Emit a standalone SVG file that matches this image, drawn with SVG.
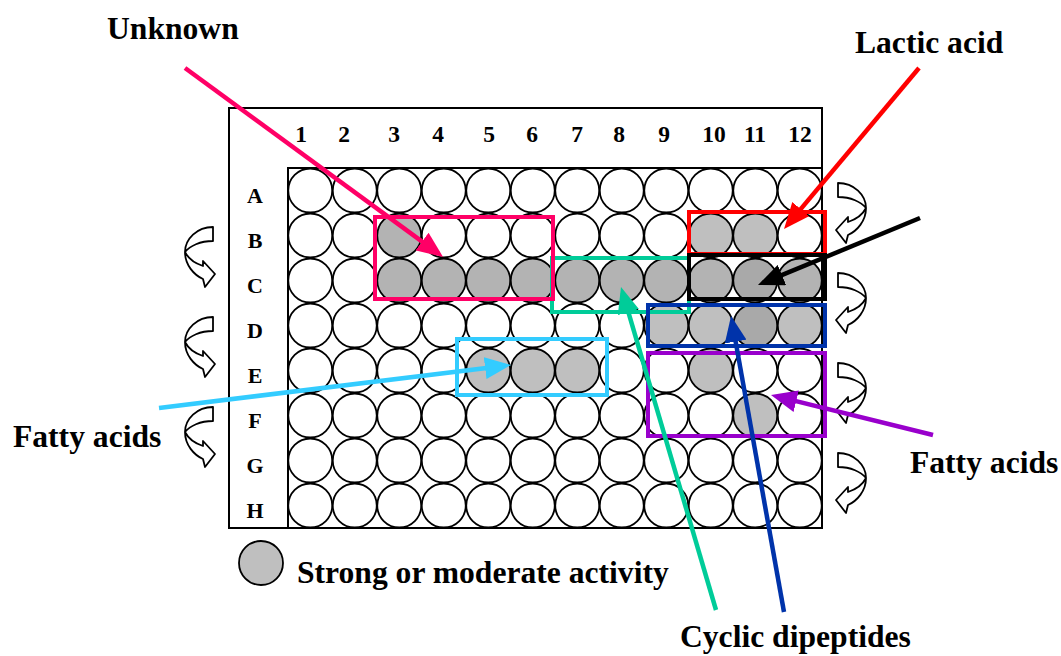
<svg xmlns="http://www.w3.org/2000/svg" width="1061" height="656" viewBox="0 0 1061 656">
  <style>
    .well { fill: #ffffff; stroke: #000; stroke-width: 1.8; }
    .hit { fill: #bfbfbf; }
    .hit2 { fill: #b3b3b3; }
    .hit3 { fill: #a9a9a9; }
    .lbl { font-family: "Liberation Serif", "Times New Roman", serif; font-weight: bold; fill: #000; }
    .row { font-size: 22px; text-anchor: middle; }
    .col { font-size: 23.5px; text-anchor: middle; }
    .big { font-size: 31.6px; }
    .box { fill: none; stroke-width: 4; }
    .arr { fill: none; stroke-width: 4.5; }
    .flip { fill: #fff; stroke: #000; stroke-width: 1.8; stroke-linejoin: round; }
  </style>
  <defs>
    <!-- curved "flip" arrow, curve on the left, head pointing right -->
    <path id="turn" d="M28,0 C12,0 0,12 0,25 C0,38 9,48 18,52 L20,60 L30,47 L18,34 L18,39 C9,36 3,31 0,25 C5,19 15,14 28,14 Z"/>
    <marker id="hPink" markerUnits="userSpaceOnUse" markerWidth="26" markerHeight="22" refX="20" refY="11" orient="auto"><path d="M0,0 L26,11 L0,22 Z" fill="#ff0066"/></marker>
    <marker id="hRed" markerUnits="userSpaceOnUse" markerWidth="26" markerHeight="22" refX="20" refY="11" orient="auto"><path d="M0,0 L26,11 L0,22 Z" fill="#ff0000"/></marker>
    <marker id="hBlack" markerUnits="userSpaceOnUse" markerWidth="26" markerHeight="22" refX="20" refY="11" orient="auto"><path d="M0,0 L26,11 L0,22 Z" fill="#000000"/></marker>
    <marker id="hGreen" markerUnits="userSpaceOnUse" markerWidth="26" markerHeight="22" refX="20" refY="11" orient="auto"><path d="M0,0 L26,11 L0,22 Z" fill="#00cc99"/></marker>
    <marker id="hBlue" markerUnits="userSpaceOnUse" markerWidth="26" markerHeight="22" refX="20" refY="11" orient="auto"><path d="M0,0 L26,11 L0,22 Z" fill="#0033aa"/></marker>
    <marker id="hCyan" markerUnits="userSpaceOnUse" markerWidth="26" markerHeight="22" refX="20" refY="11" orient="auto"><path d="M0,0 L26,11 L0,22 Z" fill="#33ccff"/></marker>
    <marker id="hPurple" markerUnits="userSpaceOnUse" markerWidth="26" markerHeight="22" refX="20" refY="11" orient="auto"><path d="M0,0 L26,11 L0,22 Z" fill="#9900cc"/></marker>
  </defs>

  <rect width="1061" height="656" fill="#fff"/>

  <!-- 96-well plate -->
  <g id="plate">
    <rect x="229" y="108" width="593" height="420" fill="#fff" stroke="#000" stroke-width="2"/>
    <path d="M288,528 V168 H822" fill="none" stroke="#000" stroke-width="2"/>
    <g id="col-labels" class="lbl col">
      <text x="301" y="142">1</text><text x="344" y="142">2</text><text x="394" y="142">3</text>
      <text x="438" y="142">4</text><text x="489" y="142">5</text><text x="532" y="142">6</text>
      <text x="577" y="142">7</text><text x="619" y="142">8</text><text x="664" y="142">9</text>
      <text x="714" y="142">10</text><text x="755" y="142">11</text><text x="800" y="142">12</text>
    </g>
    <g id="row-labels" class="lbl row">
      <text x="255" y="203">A</text><text x="255" y="248">B</text><text x="255" y="293">C</text>
      <text x="255" y="338">D</text><text x="255" y="383">E</text><text x="255" y="428">F</text>
      <text x="255" y="473">G</text><text x="255" y="518">H</text>
    </g>
    <g id="wells">
      <!-- row A -->
      <g transform="translate(0,190.5)">
        <circle class="well" cx="310.25" r="22"/><circle class="well" cx="354.75" r="22"/><circle class="well" cx="399.25" r="22"/>
        <circle class="well" cx="443.75" r="22"/><circle class="well" cx="488.25" r="22"/><circle class="well" cx="532.75" r="22"/>
        <circle class="well" cx="577.25" r="22"/><circle class="well" cx="621.75" r="22"/><circle class="well" cx="666.25" r="22"/>
        <circle class="well" cx="710.75" r="22"/><circle class="well" cx="755.25" r="22"/><circle class="well" cx="799.75" r="22"/>
      </g>
      <!-- row B -->
      <g transform="translate(0,235.5)">
        <circle class="well" cx="310.25" r="22"/><circle class="well" cx="354.75" r="22"/><circle class="well hit2" cx="399.25" r="22"/>
        <circle class="well" cx="443.75" r="22"/><circle class="well" cx="488.25" r="22"/><circle class="well" cx="532.75" r="22"/>
        <circle class="well" cx="577.25" r="22"/><circle class="well" cx="621.75" r="22"/><circle class="well" cx="666.25" r="22"/>
        <circle class="well hit" cx="710.75" r="22"/><circle class="well hit" cx="755.25" r="22"/><circle class="well" cx="799.75" r="22"/>
      </g>
      <!-- row C -->
      <g transform="translate(0,280.5)">
        <circle class="well" cx="310.25" r="22"/><circle class="well" cx="354.75" r="22"/><circle class="well hit2" cx="399.25" r="22"/>
        <circle class="well hit2" cx="443.75" r="22"/><circle class="well hit2" cx="488.25" r="22"/><circle class="well hit2" cx="532.75" r="22"/>
        <circle class="well hit2" cx="577.25" r="22"/><circle class="well hit2" cx="621.75" r="22"/><circle class="well hit2" cx="666.25" r="22"/>
        <circle class="well hit2" cx="710.75" r="22"/><circle class="well hit3" cx="755.25" r="22"/><circle class="well hit2" cx="799.75" r="22"/>
      </g>
      <!-- row D -->
      <g transform="translate(0,325.5)">
        <circle class="well" cx="310.25" r="22"/><circle class="well" cx="354.75" r="22"/><circle class="well" cx="399.25" r="22"/>
        <circle class="well" cx="443.75" r="22"/><circle class="well" cx="488.25" r="22"/><circle class="well" cx="532.75" r="22"/>
        <circle class="well" cx="577.25" r="22"/><circle class="well" cx="621.75" r="22"/><circle class="well hit" cx="666.25" r="22"/>
        <circle class="well hit" cx="710.75" r="22"/><circle class="well hit3" cx="755.25" r="22"/><circle class="well hit" cx="799.75" r="22"/>
      </g>
      <!-- row E -->
      <g transform="translate(0,370.5)">
        <circle class="well" cx="310.25" r="22"/><circle class="well" cx="354.75" r="22"/><circle class="well" cx="399.25" r="22"/>
        <circle class="well" cx="443.75" r="22"/><circle class="well hit" cx="488.25" r="22"/><circle class="well hit" cx="532.75" r="22"/>
        <circle class="well hit" cx="577.25" r="22"/><circle class="well" cx="621.75" r="22"/><circle class="well" cx="666.25" r="22"/>
        <circle class="well hit" cx="710.75" r="22"/><circle class="well" cx="755.25" r="22"/><circle class="well" cx="799.75" r="22"/>
      </g>
      <!-- row F -->
      <g transform="translate(0,415.5)">
        <circle class="well" cx="310.25" r="22"/><circle class="well" cx="354.75" r="22"/><circle class="well" cx="399.25" r="22"/>
        <circle class="well" cx="443.75" r="22"/><circle class="well" cx="488.25" r="22"/><circle class="well" cx="532.75" r="22"/>
        <circle class="well" cx="577.25" r="22"/><circle class="well" cx="621.75" r="22"/><circle class="well" cx="666.25" r="22"/>
        <circle class="well" cx="710.75" r="22"/><circle class="well hit" cx="755.25" r="22"/><circle class="well" cx="799.75" r="22"/>
      </g>
      <!-- row G -->
      <g transform="translate(0,460.5)">
        <circle class="well" cx="310.25" r="22"/><circle class="well" cx="354.75" r="22"/><circle class="well" cx="399.25" r="22"/>
        <circle class="well" cx="443.75" r="22"/><circle class="well" cx="488.25" r="22"/><circle class="well" cx="532.75" r="22"/>
        <circle class="well" cx="577.25" r="22"/><circle class="well" cx="621.75" r="22"/><circle class="well" cx="666.25" r="22"/>
        <circle class="well" cx="710.75" r="22"/><circle class="well" cx="755.25" r="22"/><circle class="well" cx="799.75" r="22"/>
      </g>
      <!-- row H -->
      <g transform="translate(0,505.5)">
        <circle class="well" cx="310.25" r="22"/><circle class="well" cx="354.75" r="22"/><circle class="well" cx="399.25" r="22"/>
        <circle class="well" cx="443.75" r="22"/><circle class="well" cx="488.25" r="22"/><circle class="well" cx="532.75" r="22"/>
        <circle class="well" cx="577.25" r="22"/><circle class="well" cx="621.75" r="22"/><circle class="well" cx="666.25" r="22"/>
        <circle class="well" cx="710.75" r="22"/><circle class="well" cx="755.25" r="22"/><circle class="well" cx="799.75" r="22"/>
      </g>
    </g>
  </g>

  <!-- plate flip arrows -->
  <g id="flips">
    <use href="#turn" class="flip" transform="translate(185,227)"/>
    <use href="#turn" class="flip" transform="translate(185,317)"/>
    <use href="#turn" class="flip" transform="translate(185,407)"/>
    <use href="#turn" class="flip" transform="translate(866,183) scale(-1,1)"/>
    <use href="#turn" class="flip" transform="translate(866,273) scale(-1,1)"/>
    <use href="#turn" class="flip" transform="translate(866,363) scale(-1,1)"/>
    <use href="#turn" class="flip" transform="translate(866,453) scale(-1,1)"/>
  </g>

  <!-- highlighted well groups -->
  <g id="group-cyclic-green"><rect class="box" x="552" y="258" width="137" height="54" stroke="#00cc99"/></g>
  <g id="group-unknown"><rect class="box" x="375" y="217" width="178" height="82" stroke="#ff0066"/></g>
  <g id="group-lactic"><rect class="box" x="689" y="212" width="136" height="42" stroke="#ff0000"/></g>
  <g id="group-black"><rect class="box" x="689" y="255" width="136" height="44" stroke="#000000"/></g>
  <g id="group-cyclic-blue"><rect class="box" x="648" y="305" width="177" height="41" stroke="#0033aa"/></g>
  <g id="group-fatty-left"><rect class="box" x="457" y="339" width="150" height="56" stroke="#33ccff"/></g>
  <g id="group-fatty-right"><rect class="box" x="648" y="353" width="177" height="83" stroke="#9900cc"/></g>

  <!-- legend -->
  <g id="legend">
    <circle class="well hit" cx="261" cy="563" r="22"/>
    <text class="lbl big" x="297" y="583">Strong or moderate activity</text>
  </g>

  <!-- labels -->
  <g id="label-unknown"><text class="lbl big" x="107" y="39">Unknown</text></g>
  <g id="label-lactic"><text class="lbl big" x="855" y="53">Lactic acid</text></g>
  <g id="label-fatty-left"><text class="lbl big" x="13" y="447">Fatty acids</text></g>
  <g id="label-fatty-right"><text class="lbl big" x="910" y="473">Fatty acids</text></g>
  <g id="label-cyclic"><text class="lbl big" x="680" y="647">Cyclic dipeptides</text></g>

  <!-- connectors -->
  <g id="connectors">
    <line class="arr" x1="185" y1="68" x2="438.2" y2="253.4" stroke="#ff0066" marker-end="url(#hPink)"/>
    <line class="arr" x1="919" y1="68" x2="787.9" y2="224.4" stroke="#ff0000" marker-end="url(#hRed)"/>
    <line class="arr" x1="920" y1="218" x2="763.5" y2="282.7" stroke="#000000" marker-end="url(#hBlack)"/>
    <line class="arr" x1="716" y1="610" x2="622.7" y2="292.8" stroke="#00cc99" marker-end="url(#hGreen)"/>
    <line class="arr" x1="784" y1="612" x2="732.1" y2="321.9" stroke="#0033aa" marker-end="url(#hBlue)"/>
    <line class="arr" x1="159" y1="408" x2="505" y2="365.7" stroke="#33ccff" marker-end="url(#hCyan)"/>
    <line class="arr" x1="933" y1="435" x2="776.8" y2="396.4" stroke="#9900cc" marker-end="url(#hPurple)"/>
  </g>
</svg>
